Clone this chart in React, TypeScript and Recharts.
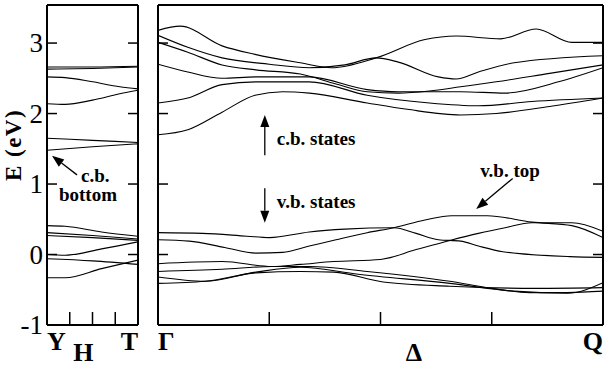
import React from "react";
import { LineChart, Line, XAxis, YAxis, ReferenceLine, ReferenceDot } from "recharts";

type Pt = [number, number];

const eDomain = [-1, 3.54];
const eTicks = [-1, 0, 1, 2, 3];
const eInnerTicks = [0, 1, 2, 3];
const kTicks = [0.25, 0.5, 0.75];

const yhLabels = ["Y", "H", "T"];
const yhLabelPos = [0, 0.4, 1];
const gqLabels = ["Γ", "Δ", "Q"];
const gqLabelPos = [0, 0.575, 1];

// Y - H - T panel
const yhC1: Pt[] = [[0, 2.66], [0.5, 2.66], [1, 2.67]];
const yhC2: Pt[] = [[0, 2.63], [0.5, 2.64], [1, 2.66]];
const yhC3: Pt[] = [[0, 2.52], [0.2, 2.51], [0.5, 2.45], [0.8, 2.38], [1, 2.35]];
const yhC4: Pt[] = [[0, 2.14], [0.2, 2.13], [0.5, 2.19], [0.8, 2.28], [1, 2.33]];
const yhC5: Pt[] = [[0, 1.65], [0.5, 1.62], [1, 1.59]];
const yhC6: Pt[] = [[0, 1.48], [0.5, 1.53], [1, 1.57]];
const yhV1: Pt[] = [[0, 0.41], [0.2, 0.4], [0.6, 0.32], [1, 0.26]];
const yhV2: Pt[] = [[0, 0.31], [0.5, 0.27], [1, 0.22]];
const yhV3: Pt[] = [[0, 0.27], [0.5, 0.24], [1, 0.2]];
const yhV4: Pt[] = [[0, 0.0], [0.2, -0.01], [0.6, 0.08], [1, 0.18]];
const yhV5: Pt[] = [[0, -0.06], [0.5, -0.09], [1, -0.14]];
const yhV6: Pt[] = [[0, -0.33], [0.2, -0.33], [0.6, -0.2], [1, -0.08]];

// Gamma - Delta - Q panel
const gqC1: Pt[] = [[0, 3.18], [0.05, 3.24], [0.144, 2.96], [0.218, 2.84], [0.32, 2.72], [0.39, 2.65], [0.49, 2.79], [0.6, 3.05], [0.67, 3.1], [0.77, 3.06], [0.85, 3.2], [0.93, 3.01], [1, 3.01]];
const gqC2: Pt[] = [[0, 3.11], [0.067, 2.94], [0.144, 2.79], [0.25, 2.7], [0.34, 2.65], [0.42, 2.69], [0.49, 2.79], [0.54, 2.73], [0.63, 2.52], [0.67, 2.49], [0.72, 2.59], [0.8, 2.72], [1, 2.82]];
const gqC3: Pt[] = [[0, 3.01], [0.067, 2.87], [0.144, 2.69], [0.22, 2.62], [0.32, 2.56], [0.4, 2.42], [0.47, 2.31], [0.54, 2.29], [0.61, 2.32], [0.68, 2.38], [0.76, 2.45], [0.88, 2.57], [1, 2.69]];
const gqC4: Pt[] = [[0, 2.7], [0.067, 2.59], [0.144, 2.5], [0.22, 2.52], [0.34, 2.52], [0.47, 2.34], [0.54, 2.31], [0.61, 2.31], [0.68, 2.31], [0.78, 2.29], [0.9, 2.45], [1, 2.65]];
const gqC5: Pt[] = [[0, 2.15], [0.067, 2.22], [0.144, 2.41], [0.22, 2.45], [0.34, 2.45], [0.47, 2.26], [0.61, 2.15], [0.72, 2.11], [0.84, 2.17], [1, 2.22]];
const gqC6: Pt[] = [[0, 1.7], [0.067, 1.77], [0.144, 2.02], [0.218, 2.26], [0.28, 2.31], [0.34, 2.29], [0.47, 2.15], [0.56, 2.06], [0.68, 1.98], [0.76, 2.0], [0.88, 2.1], [1, 2.22]];
const gqV1: Pt[] = [[0, 0.31], [0.1, 0.3], [0.2, 0.26], [0.25, 0.24], [0.34, 0.32], [0.42, 0.36], [0.53, 0.38], [0.58, 0.3], [0.63, 0.21], [0.68, 0.19], [0.72, 0.12], [0.775, 0.04], [0.925, -0.03], [1, -0.04]];
const gqV2: Pt[] = [[0, 0.21], [0.07, 0.19], [0.15, 0.1], [0.22, 0.02], [0.28, 0.03], [0.34, 0.12], [0.4, 0.21], [0.47, 0.31], [0.53, 0.38], [0.6, 0.49], [0.66, 0.55], [0.74, 0.55], [0.84, 0.46], [0.93, 0.41], [1, 0.24]];
const gqV3: Pt[] = [[0, -0.13], [0.144, -0.1], [0.256, -0.17], [0.32, -0.14], [0.395, -0.1], [0.5, -0.07], [0.58, 0.07], [0.656, 0.2], [0.72, 0.3], [0.78, 0.38], [0.84, 0.45], [0.93, 0.45], [1, 0.33]];
const gqV4: Pt[] = [[0, -0.24], [0.144, -0.21], [0.256, -0.17], [0.34, -0.17], [0.47, -0.24], [0.656, -0.38], [0.75, -0.48], [0.836, -0.54], [0.92, -0.54], [1, -0.52]];
const gqV5: Pt[] = [[0, -0.32], [0.106, -0.38], [0.22, -0.25], [0.32, -0.18], [0.45, -0.28], [0.656, -0.41], [0.8, -0.52], [0.92, -0.55], [1, -0.4]];
const gqV6: Pt[] = [[0, -0.41], [0.106, -0.38], [0.22, -0.26], [0.32, -0.24], [0.395, -0.25], [0.506, -0.39], [0.656, -0.45], [0.85, -0.48], [1, -0.47]];

const yhBands = [yhC1, yhC2, yhC3, yhC4, yhC5, yhC6, yhV1, yhV2, yhV3, yhV4, yhV5, yhV6];
const gqBands = [gqC1, gqC2, gqC3, gqC4, gqC5, gqC6, gqV1, gqV2, gqV3, gqV4, gqV5, gqV6];

// annotations, in (k, E) data units
type Note = { text: string; k: number; e: number; anchor: "start" | "middle" | "end" };
type Arrow = { from: Pt; to: Pt };
const yhNotes: Note[] = [
  { text: "c.b.", k: 0.53, e: 1.12, anchor: "middle" },
  { text: "bottom", k: 0.45, e: 0.85, anchor: "middle" },
];
const yhArrows: Arrow[] = [{ from: [0.33, 1.13], to: [0.055, 1.4] }];
const gqNotes: Note[] = [
  { text: "c.b. states", k: 0.267, e: 1.64, anchor: "start" },
  { text: "v.b. states", k: 0.267, e: 0.75, anchor: "start" },
  { text: "v.b. top", k: 0.724, e: 1.19, anchor: "start" },
];
const gqArrows: Arrow[] = [
  { from: [0.24, 1.41], to: [0.24, 1.98] },
  { from: [0.24, 0.94], to: [0.24, 0.45] },
  { from: [0.797, 1.08], to: [0.715, 0.646] },
];

const serif = "'Liberation Serif', 'Times New Roman', serif";
const toRows = (pts: Pt[]) => pts.map(([x, e]) => ({ x, e }));

function ArrowShape(p: any) {
  const { x1, y1, x2, y2 } = p;
  const a = Math.atan2(y2 - y1, x2 - x1);
  const L = 12;
  const W = 4.5;
  const bx = x2 - L * Math.cos(a);
  const by = y2 - L * Math.sin(a);
  const px = -Math.sin(a) * W;
  const py = Math.cos(a) * W;
  return (
    <g>
      <line x1={x1} y1={y1} x2={bx} y2={by} stroke="#000" strokeWidth={1.3} />
      <polygon points={`${x2},${y2} ${bx + px},${by + py} ${bx - px},${by - py}`} fill="#000" />
    </g>
  );
}

function ELabel({ viewBox }: any) {
  const x = viewBox.x - 34;
  const y = viewBox.y + 140;
  return (
    <text
      x={x}
      y={y}
      transform={`rotate(-90 ${x} ${y})`}
      textAnchor="middle"
      dominantBaseline="central"
      fontFamily={serif}
      fontWeight="bold"
      fontSize={23}
      letterSpacing={1.5}
    >
      E (eV)
    </text>
  );
}

interface PanelProps {
  width: number;
  left: number;
  right: number;
  bands: Pt[][];
  labels: string[];
  labelPos: number[];
  notes: Note[];
  arrows: Arrow[];
  showE?: boolean;
}

function Panel({ width, left, right, bands, labels, labelPos, notes, arrows, showE }: PanelProps) {
  const axisLine = { stroke: "#000", strokeWidth: 2 };
  const tickLine = { stroke: "#000", strokeWidth: 1.5 };
  return (
    <LineChart width={width} height={372} margin={{ top: 5, left, right, bottom: 47 }}>
      <XAxis xAxisId="k" dataKey="x" type="number" domain={[0, 1]} allowDataOverflow
        orientation="bottom" mirror height={1} ticks={kTicks} interval={0}
        tickSize={13} tick={() => <g />} axisLine={axisLine} tickLine={tickLine} />
      <XAxis xAxisId="top" type="number" domain={[0, 1]} allowDataOverflow
        orientation="top" mirror height={1} ticks={[0, 1]} tickSize={0} tick={() => <g />}
        tickLine={false} axisLine={axisLine} />
      <YAxis yAxisId="e" type="number" domain={eDomain} allowDataOverflow
        orientation="left" mirror width={1} ticks={showE ? eTicks : eInnerTicks} interval={0}
        tickSize={10} tickMargin={0} axisLine={axisLine} tickLine={tickLine}
        tick={(p: any) =>
          showE ? (
            <text x={p.x - 14} y={p.y} textAnchor="end" dominantBaseline="central"
              fontFamily={serif} fontSize={27}>
              {p.payload.value}
            </text>
          ) : (
            <g />
          )
        }
        label={showE ? <ELabel /> : undefined} />
      <YAxis yAxisId="eR" type="number" domain={eDomain} allowDataOverflow
        orientation="right" mirror width={1} ticks={eInnerTicks} interval={0}
        tickSize={10} tick={() => <g />} axisLine={axisLine} tickLine={tickLine} />
      {bands.map((b, i) => (
        <Line key={i} xAxisId="k" yAxisId="e" data={toRows(b)} dataKey="e" type="monotone"
          stroke="#000" strokeWidth={1.1} dot={false} isAnimationActive={false} />
      ))}
      {arrows.map((a, i) => (
        <ReferenceLine key={"a" + i} xAxisId="k" yAxisId="e" ifOverflow="visible"
          segment={[{ x: a.from[0], y: a.from[1] }, { x: a.to[0], y: a.to[1] }]}
          shape={ArrowShape} />
      ))}
      {notes.map((n, i) => (
        <ReferenceDot key={"n" + i} xAxisId="k" yAxisId="e" x={n.k} y={n.e} r={0} ifOverflow="visible"
          shape={(p: any) => (
            <text x={p.cx} y={p.cy} textAnchor={n.anchor} dominantBaseline="central"
              fontFamily={serif} fontWeight="bold" fontSize={19}>
              {n.text}
            </text>
          )} />
      ))}
      {labels.map((t, i) => (
        <ReferenceDot key={"l" + i} xAxisId="k" yAxisId="e" x={labelPos[i]} y={eDomain[0]} r={0}
          ifOverflow="visible"
          shape={(p: any) => (
            <text x={p.cx} y={p.cy + (i === 1 ? 27 : 16)}
              textAnchor={i === 0 ? "start" : i === labels.length - 1 ? "end" : "middle"}
              dominantBaseline="central" fontFamily={serif} fontWeight="bold" fontSize={26}>
              {t}
            </text>
          )} />
      ))}
    </LineChart>
  );
}

export default function App() {
  return (
    <div style={{ position: "absolute", left: 0, top: 0, width: 608, height: 372, background: "#fff" }}>
      <div style={{ position: "absolute", left: 0, top: 0 }}>
        <Panel width={150} left={47} right={12} bands={yhBands} labels={yhLabels}
          labelPos={yhLabelPos} notes={yhNotes} arrows={yhArrows} showE />
      </div>
      <div style={{ position: "absolute", left: 150, top: 0 }}>
        <Panel width={458} left={8} right={5} bands={gqBands} labels={gqLabels}
          labelPos={gqLabelPos} notes={gqNotes} arrows={gqArrows} />
      </div>
    </div>
  );
}
